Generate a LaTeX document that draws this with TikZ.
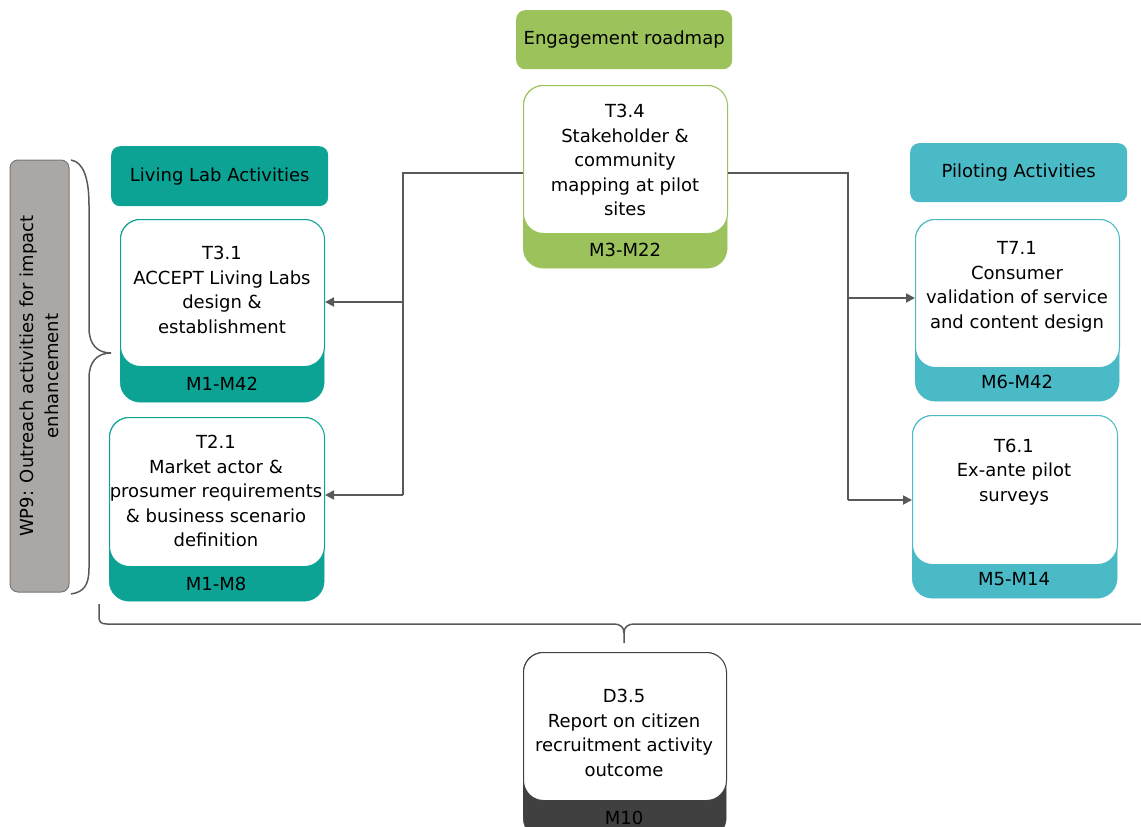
\documentclass[tikz,border=0pt]{standalone}
\usepackage{fontspec}
\setmainfont{DejaVu Sans}
\usetikzlibrary{arrows.meta}

\definecolor{roadgreen}{HTML}{9BC25B}
\definecolor{labteal}{HTML}{0CA394}
\definecolor{pilotblue}{HTML}{4BBAC7}
\definecolor{wpgray}{HTML}{ABA7A5}
\definecolor{wpedge}{HTML}{7A7674}
\definecolor{linegray}{HTML}{595959}
\definecolor{delivgray}{HTML}{404040}

\tikzset{
  every node/.style={font=\fontsize{18}{24.5}\selectfont},
  header/.style={fill=#1, rounded corners=9pt, anchor=north west, inner sep=0pt,
    minimum height=60pt, minimum width=217pt},
  band/.style={fill=#1, draw=#1, rounded corners=20pt, anchor=north west, inner sep=0pt},
  card/.style={fill=white, draw=#1, line width=1pt, rounded corners=20pt,
    anchor=north west, inner sep=0pt},
  txt/.style={align=center, inner sep=0pt},
  link/.style={draw=linegray, line width=1.8pt},
  arr/.style={link, -{Triangle[length=9pt,width=9pt]}},
  brace/.style={draw=linegray, line width=1.5pt},
}

\begin{document}
\begin{tikzpicture}[x=1pt,y=-1pt]
\useasboundingbox (0,0) rectangle (1141,827);

% group headers
\node[header=roadgreen, minimum width=216pt, minimum height=59pt] (road) at (516,10) {Engagement roadmap};
\node[header=labteal] (labs) at (111,146) {Living Lab Activities};
\node[header=pilotblue, minimum height=59pt] (pilots) at (910,143) {Piloting Activities};

% work package box
\node[fill=wpgray, draw=wpedge, line width=1pt, rounded corners=8pt, rotate=90,
  minimum width=432pt, minimum height=59pt, align=center, inner sep=0pt]
  (wp9) at (39.5,376) {WP9: Outreach activities for impact\\enhancement};

% T3.4
\node[band=roadgreen, minimum width=204pt, minimum height=183pt] (t34b) at (523,85) {};
\node[card=roadgreen, minimum width=204pt, minimum height=148pt] (t34) at (523,85) {};
\node[txt] (t34x) at (625,160) {T3.4\\Stakeholder \&\\community\\mapping at pilot\\sites};
\node (t34d) at (625,250) {M3-M22};

% T3.1
\node[band=labteal, minimum width=204pt, minimum height=183pt] (t31b) at (120,219) {};
\node[card=labteal, minimum width=204pt, minimum height=147pt] (t31) at (120,219) {};
\node[txt] (t31x) at (222,290) {T3.1\\ACCEPT Living Labs\\design \&\\establishment};
\node (t31d) at (222,384) {M1-M42};

% T2.1
\node[band=labteal, minimum width=215pt, minimum height=184pt] (t21b) at (109,417) {};
\node[card=labteal, minimum width=215pt, minimum height=149pt] (t21) at (109,417) {};
\node[txt] (t21x) at (216,491) {T2.1\\Market actor \&\\prosumer requirements\\\& business scenario\\definition};
\node (t21d) at (216,584) {M1-M8};

% T7.1
\node[band=pilotblue, minimum width=204pt, minimum height=182pt] (t71b) at (915,219) {};
\node[card=pilotblue, minimum width=204pt, minimum height=148pt] (t71) at (915,219) {};
\node[txt] (t71x) at (1017,287) {T7.1\\Consumer\\validation of service\\and content design};
\node (t71d) at (1017,382) {M6-M42};

% T6.1
\node[band=pilotblue, minimum width=205pt, minimum height=183pt] (t61b) at (912,415) {};
\node[card=pilotblue, minimum width=205pt, minimum height=149pt] (t61) at (912,415) {};
\node[txt] (t61x) at (1014,472) {T6.1\\Ex-ante pilot\\surveys};
\node (t61d) at (1014,579) {M5-M14};

% D3.5
\node[band=delivgray, minimum width=203pt, minimum height=186pt] (d35b) at (523,652) {};
\node[card=delivgray, minimum width=203pt, minimum height=148pt] (d35) at (523,652) {};
\node[txt] (d35x) at (624,733) {D3.5\\Report on citizen\\recruitment activity\\outcome};
\node (d35d) at (624,818) {M10};

% connectors
\coordinate (jl) at (403,173);
\coordinate (al) at (403,302);
\coordinate (bl) at (403,495);
\coordinate (jr) at (848,173);
\coordinate (ar) at (848,298);
\coordinate (br) at (848,500);
\draw[link] (t34.west |- jl) -- (jl) -- (bl);
\draw[arr] (al) -- (al -| t31.east);
\draw[arr] (bl) -- (bl -| t21.east);
\draw[link] (t34.east |- jr) -- (jr) -- (br);
\draw[arr] (ar) -- (ar -| t71.west);
\draw[arr] (br) -- (br -| t61.west);

% braces
\draw[brace] (71,160) .. controls (84,162) and (89,180) .. (89,205) -- (89,328)
  .. controls (89,344) and (97,353) .. (111,353)
  .. controls (97,353) and (89,362) .. (89,378) -- (89,568)
  .. controls (89,585) and (84,592) .. (71,594);
\draw[brace] (99,604) -- (99,617) .. controls (99,622) and (101,624) .. (107,624) -- (614,624)
  .. controls (620,624) and (624,627) .. (624,633) -- (624,643);
\draw[brace] (624,633) .. controls (624,627) and (628,624) .. (634,624) -- (1150,624);
\end{tikzpicture}
\end{document}
